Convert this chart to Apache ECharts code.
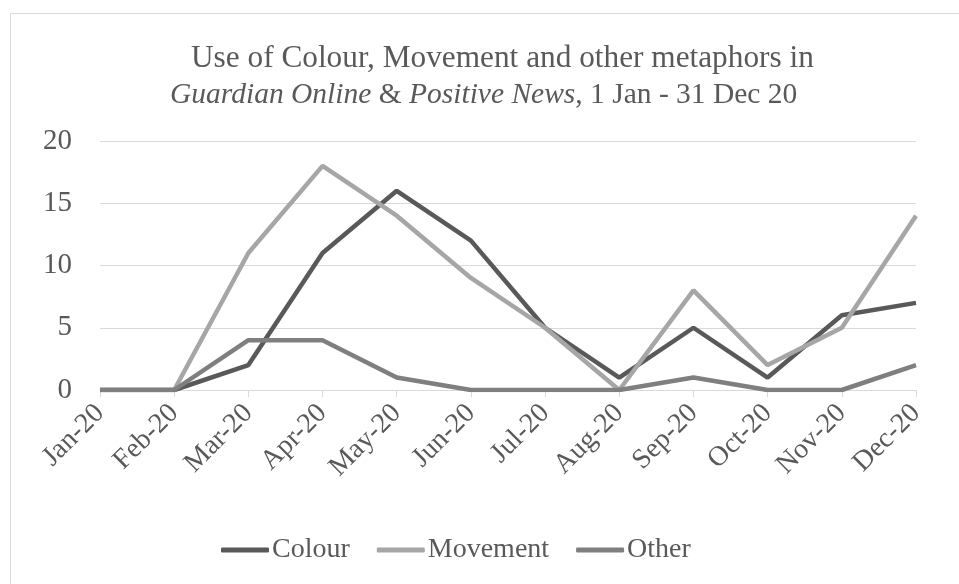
<!DOCTYPE html>
<html><head><meta charset="utf-8">
<script src="https://cdn.jsdelivr.net/npm/echarts@6/dist/echarts.min.js"></script>
<style>html,body{margin:0;padding:0;background:#fff}#c{width:959px;height:584px}</style>
</head><body><div id="c"></div>
<script>
const months = ['Jan-20','Feb-20','Mar-20','Apr-20','May-20','Jun-20','Jul-20','Aug-20','Sep-20','Oct-20','Nov-20','Dec-20'];
const colour = [0,0,2,11,16,12,5,1,5,1,6,7];
const movement = [0,0,11,18,14,9,5,0,8,2,5,14];
const other = [0,0,4,4,1,0,0,0,1,0,0,2];
const yTicks = [0,5,10,15,20];
const titleLine1 = 'Use of Colour, Movement and other metaphors in';
const titleLine2 = '{i|Guardian Online} & {i|Positive News}, 1 Jan - 31 Dec 20';

const font = '"Liberation Serif","Times New Roman",serif';
const txt = '#595959';
const chart = echarts.init(document.getElementById('c'));
chart.setOption({
  animation:false,
  backgroundColor:'#fff',
  graphic:[{type:'rect',shape:{x:10.5,y:13.5,width:1000,height:700},style:{fill:'none',stroke:'#d9d9d9',lineWidth:1}}],
  title:[{
    text:titleLine1,
    left:186, top:35,
    textStyle:{fontFamily:font,fontSize:31.3,fontWeight:'normal',color:txt,lineHeight:37}
  },{
    text:titleLine2,
    left:165, top:72,
    textStyle:{fontFamily:font,fontSize:29.5,fontWeight:'normal',color:txt,lineHeight:37,
      rich:{i:{fontFamily:font,fontSize:29.5,fontStyle:'italic',color:txt,lineHeight:37}}}
  }],
  legend:{
    top:531, left:216, icon:'roundRect', itemWidth:48, itemHeight:5, itemGap:27,
    textStyle:{fontFamily:font,fontSize:28,color:txt,padding:[0,0,0,-2]},
    data:['Colour','Movement','Other']
  },
  grid:{left:100,right:43,top:141,bottom:194,containLabel:false},
  xAxis:{
    type:'category', data:months, boundaryGap:false,
    axisLine:{lineStyle:{color:'#d9d9d9',width:1}},
    axisTick:{show:true,length:7,lineStyle:{color:'#d9d9d9'}},
    axisLabel:{rotate:45,fontFamily:font,fontSize:28,color:txt,margin:19,interval:0}
  },
  yAxis:{
    type:'value', min:yTicks[0], max:yTicks[yTicks.length-1], interval:5,
    axisLine:{show:false}, axisTick:{show:false},
    splitLine:{lineStyle:{color:'#d9d9d9',width:1}},
    axisLabel:{fontFamily:font,fontSize:29,color:txt,margin:28}
  },
  series:[
    {name:'Colour',type:'line',data:colour,symbol:'none',color:'#595959',lineStyle:{width:4.5,color:'#595959'}},
    {name:'Movement',type:'line',data:movement,symbol:'none',color:'#a6a6a6',lineStyle:{width:4.5,color:'#a6a6a6'}},
    {name:'Other',type:'line',data:other,symbol:'none',color:'#7f7f7f',lineStyle:{width:4.5,color:'#7f7f7f'}}
  ]
});
</script></body></html>
